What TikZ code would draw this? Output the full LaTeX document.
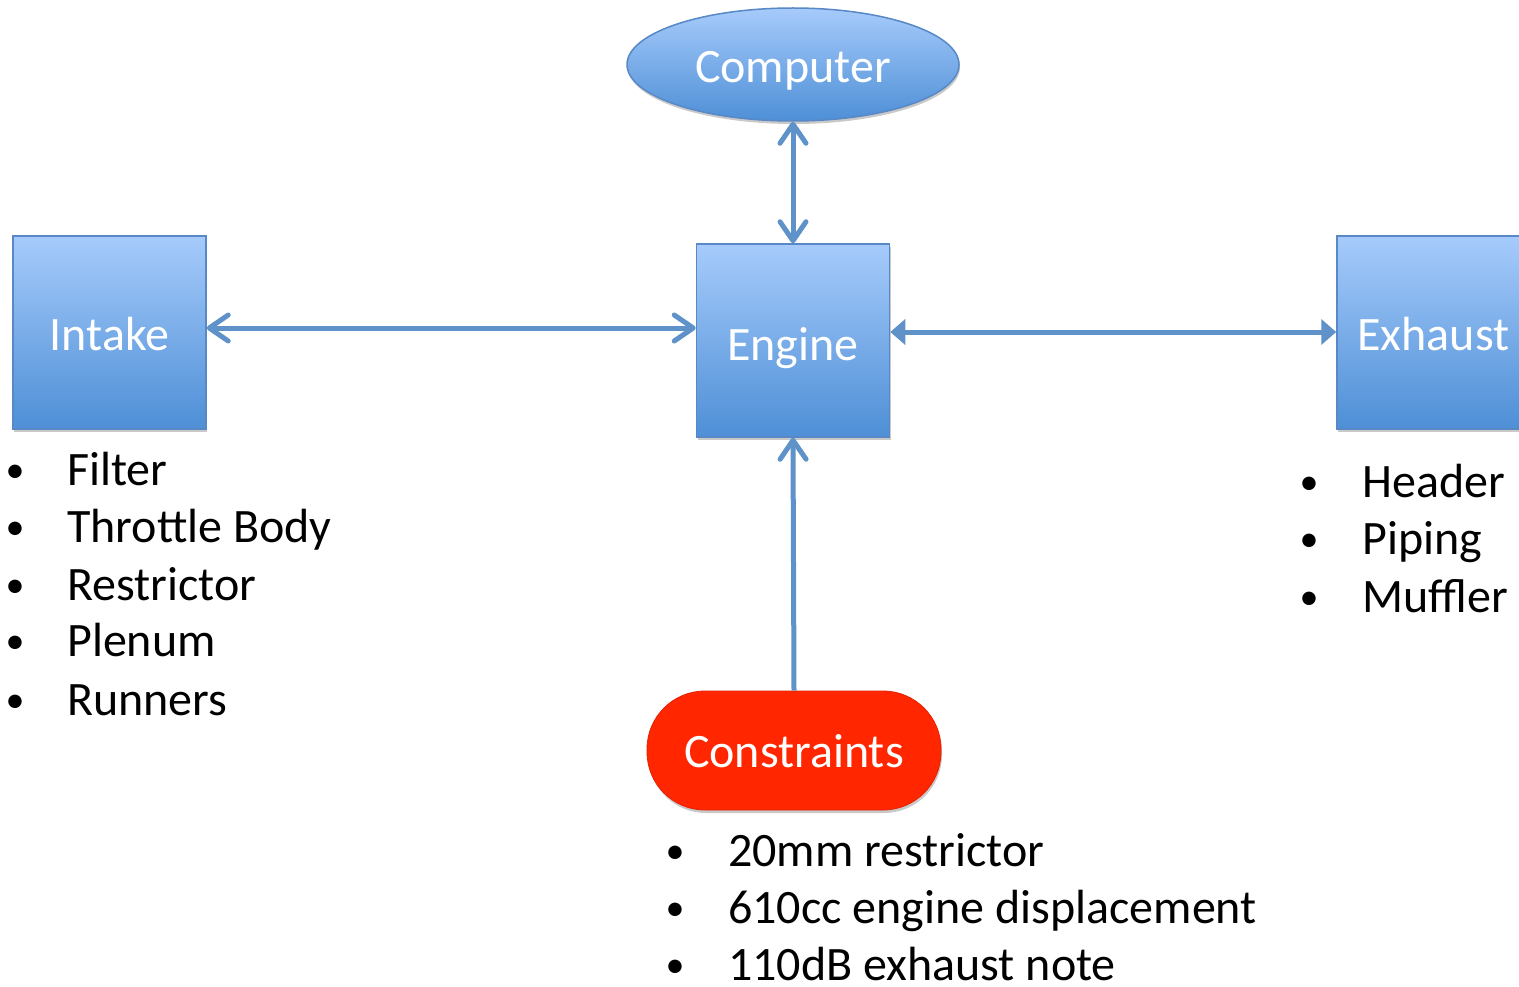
\documentclass[tikz,border=0pt]{standalone}
\usepackage{fontspec}
\setmainfont{Carlito}
\usetikzlibrary{arrows.meta,shadows,shapes.geometric}
\definecolor{arrowblue}{RGB}{94,146,201}
\definecolor{boxtop}{RGB}{166,203,251}
\definecolor{boxbot}{RGB}{78,143,214}
\definecolor{boxborder}{RGB}{88,136,198}
\definecolor{consred}{RGB}{255,38,0}
\tikzset{
  barbtip/.tip={Straight Barb[length=19pt, width=26pt, round]},
  tritip/.tip={Triangle[length=15pt, width=25pt]}
}
\begin{document}
\begin{tikzpicture}[x=1pt,y=-1pt,
  big/.style={font=\fontsize{48}{56}\selectfont},
  shad/.style={drop shadow={shadow xshift=1pt, shadow yshift=-3pt, opacity=0.3, fill=black!70}},
  blockbox/.style={draw=boxborder, line width=1.5pt, top color=boxtop, bottom color=boxbot,
    minimum width=193pt, minimum height=193pt, text=white, big, inner sep=0pt,
    text height=36pt, text depth=0pt, shad},
  compell/.style={ellipse, draw=boxborder, line width=1.5pt, top color=boxtop, bottom color=boxbot,
    minimum width=332pt, minimum height=113pt, text=white, big, inner sep=0pt,
    text height=36pt, text depth=0pt, shad},
  consbox/.style={rectangle, rounded corners=58pt, fill=consred, draw=consred!90!black, line width=0.8pt,
    minimum width=294pt, minimum height=119pt, text=white, big, inner sep=0pt,
    text height=34pt, text depth=0pt, shad},
  conn/.style={draw=arrowblue, line width=5pt},
  item/.style={big, anchor=base west, inner sep=0pt},
  bul/.style={font=\fontsize{38}{44}\selectfont, anchor=base, inner sep=0pt}
]
\useasboundingbox (0,0) rectangle (1519,987);

% shapes
\node[compell] (computer) at (793,64.5) {Computer};
\node[blockbox, text height=40pt] (engine) at (793,340.5) {Engine};
\node[blockbox] (intake) at (109.5,332.5) {Intake};
\node[blockbox] (exhaust) at (1433.5,332.5) {Exhaust};
\node[consbox] (constraints) at (794,750.5) {Constraints};

% connectors
\draw[conn, barbtip-barbtip] ([yshift=4.5pt]intake.east) -- ([yshift=4.5pt]intake.east -| engine.west);
\draw[conn, tritip-tritip] ([yshift=8.5pt]engine.east) -- ([yshift=8.5pt]engine.east -| exhaust.west);
\draw[conn, barbtip-barbtip] (computer.south) -- (engine.north);
\draw[conn, -barbtip] (constraints.north) -- (engine.south);

% intake list
\foreach \t/\y [count=\i] in {Filter/485, Throttle Body/542, Restrictor/600, Plenum/656, Runners/715}{
  \node[bul] (ib\i) at (15,\y-3) {•};
  \node[item] (it\i) at (67,\y) {\t};
}
% exhaust list
\foreach \t/\y [count=\i] in {Header/497, Piping/554, Muffler/612}{
  \node[bul] (eb\i) at (1309,\y-3) {•};
  \node[item] (et\i) at (1362,\y) {\t};
}
% constraints list
\foreach \t/\y [count=\i] in {20mm restrictor/866, 610cc engine displacement/923, 110dB exhaust note/980}{
  \node[bul] (cb\i) at (675,\y-3) {•};
  \node[item] (ct\i) at (728,\y) {\t};
}
\end{tikzpicture}
\end{document}
